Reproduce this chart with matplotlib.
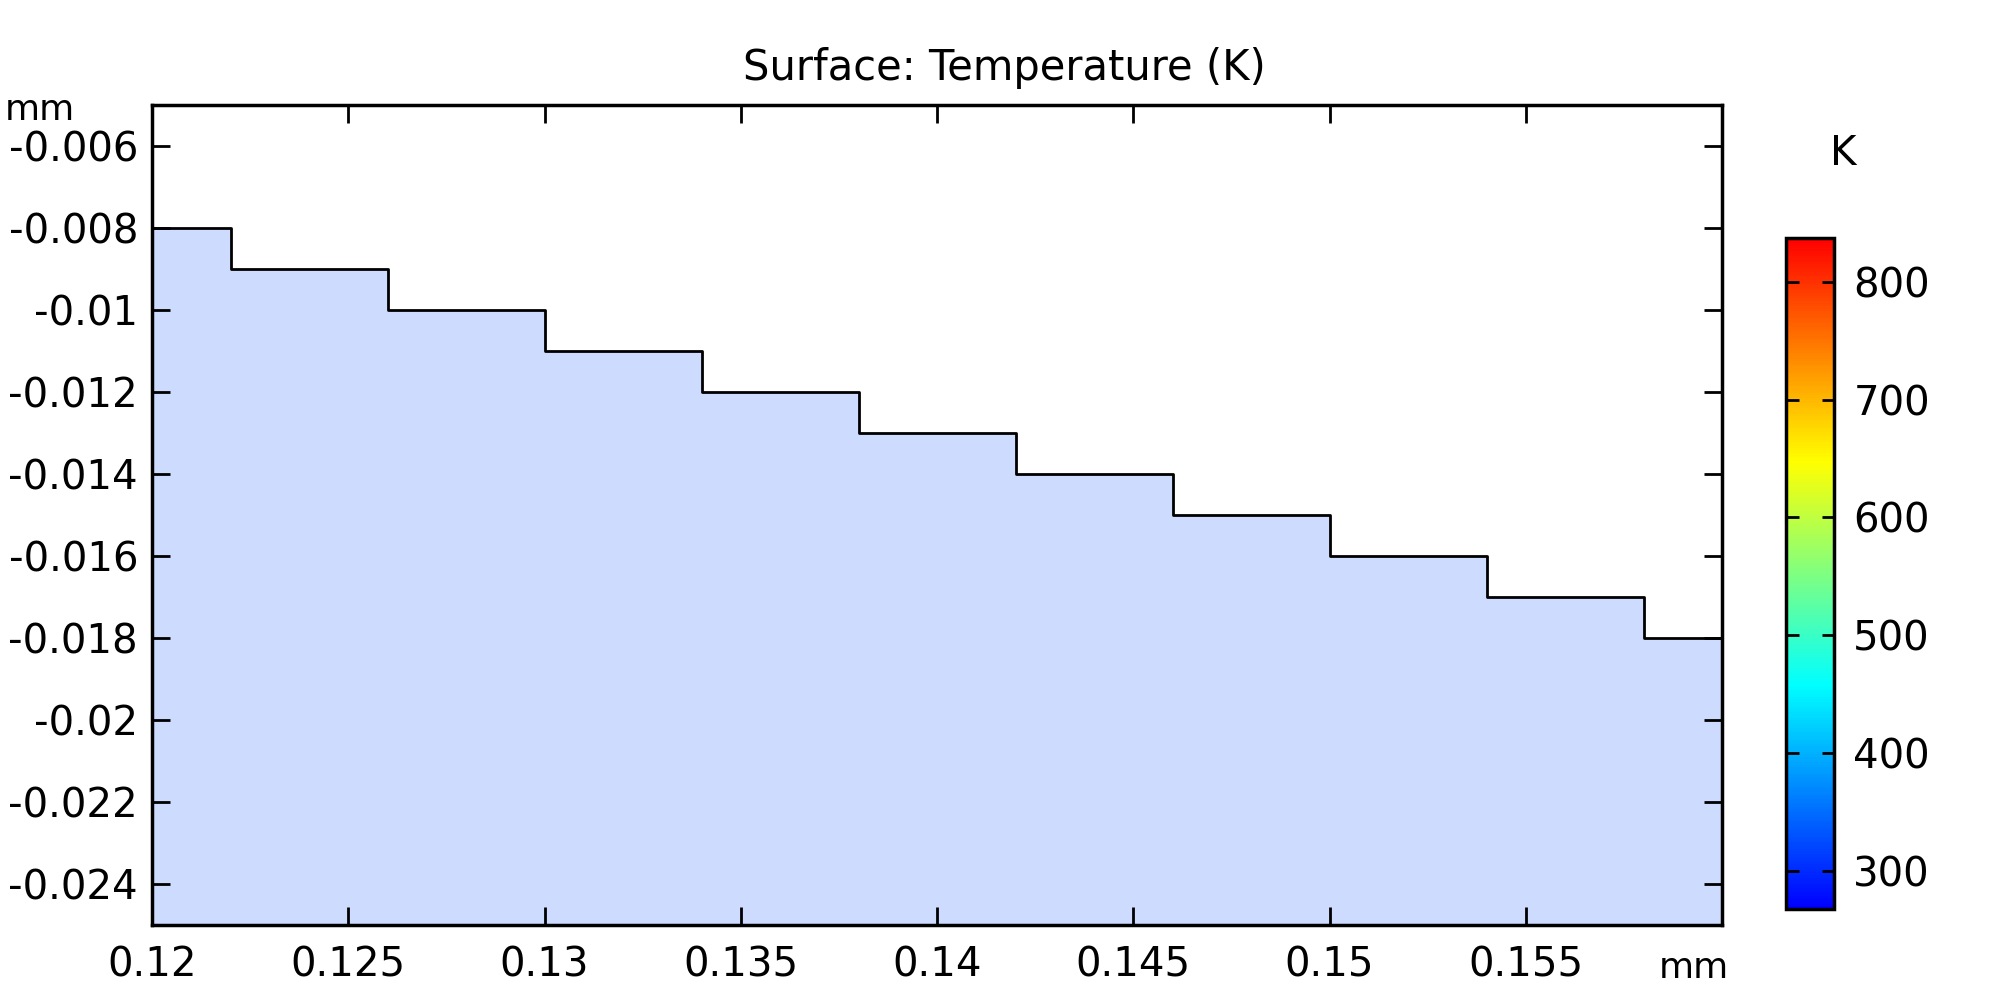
import numpy as np
import matplotlib
matplotlib.use("Agg")
import matplotlib.pyplot as plt
from matplotlib.colors import Normalize, LinearSegmentedColormap
from matplotlib.cm import ScalarMappable

# geometry of the stepped domain (mm)
x_edges = [0.12, 0.122, 0.126, 0.13, 0.134, 0.138, 0.142, 0.146, 0.15, 0.154, 0.158, 0.16]
levels = [-0.008, -0.009, -0.010, -0.011, -0.012, -0.013, -0.014, -0.015, -0.016, -0.017, -0.018]
y_bottom = -0.025

x_ticks = [0.12, 0.125, 0.13, 0.135, 0.14, 0.145, 0.15, 0.155]
x_ticklabels = ["0.12", "0.125", "0.13", "0.135", "0.14", "0.145", "0.15", "0.155"]
y_ticks = [-0.024, -0.022, -0.02, -0.018, -0.016, -0.014, -0.012, -0.01, -0.008, -0.006]
y_ticklabels = ["-0.024", "-0.022", "-0.02", "-0.018", "-0.016", "-0.014", "-0.012", "-0.01", "-0.008", "-0.006"]

t_min, t_max = 268, 837
cb_ticks = [300, 400, 500, 600, 700, 800]

# comsol-like rainbow: blue -> cyan -> yellow -> red
rainbow = LinearSegmentedColormap.from_list(
    "rainbow_c", [(0.0, "#0000ff"), (0.333, "#00ffff"), (0.667, "#ffff00"), (1.0, "#ff0000")])

FS = 29
fig = plt.figure(figsize=(20.08, 9.92), dpi=100)
ax = fig.add_axes([0.0757, 0.0675, 0.7819, 0.8266])

ys = levels + [levels[-1]]
ax.fill_between(x_edges, ys, y_bottom, step="post", color="#cddcfe", linewidth=0)
ax.step(x_edges, ys, where="post", color="black", linewidth=2)

ax.set_xlim(0.12, 0.16)
ax.set_ylim(-0.025, -0.005)
ax.set_xticks(x_ticks)
ax.set_xticklabels(x_ticklabels)
ax.set_yticks(y_ticks)
ax.set_yticklabels(y_ticklabels)
ax.tick_params(direction="in", length=13, width=2, top=True, right=True, labelsize=FS)
ax.tick_params(axis="x", pad=15)
ax.tick_params(axis="y", pad=10)
for s in ax.spines.values():
    s.set_linewidth(2.5)

fig.text(0.5, 0.931, "Surface: Temperature (K)", ha="center", va="center", fontsize=30)
fig.text(0.0025, 0.879, "mm", ha="left", va="baseline", fontsize=26)
fig.text(0.826, 0.0141, "mm", ha="left", va="baseline", fontsize=26)

cax = fig.add_axes([0.8894, 0.0837, 0.0239, 0.6764])
sm = ScalarMappable(norm=Normalize(t_min, t_max), cmap=rainbow)
cb = fig.colorbar(sm, cax=cax)
cb.set_ticks(cb_ticks)
cax.tick_params(direction="in", length=9, width=2, left=True, right=True, labelsize=FS, pad=14)
cb.outline.set_linewidth(2.5)
fig.text(0.918, 0.845, "K", ha="center", va="center", fontsize=FS)

fig.savefig("out.png", dpi=100)
